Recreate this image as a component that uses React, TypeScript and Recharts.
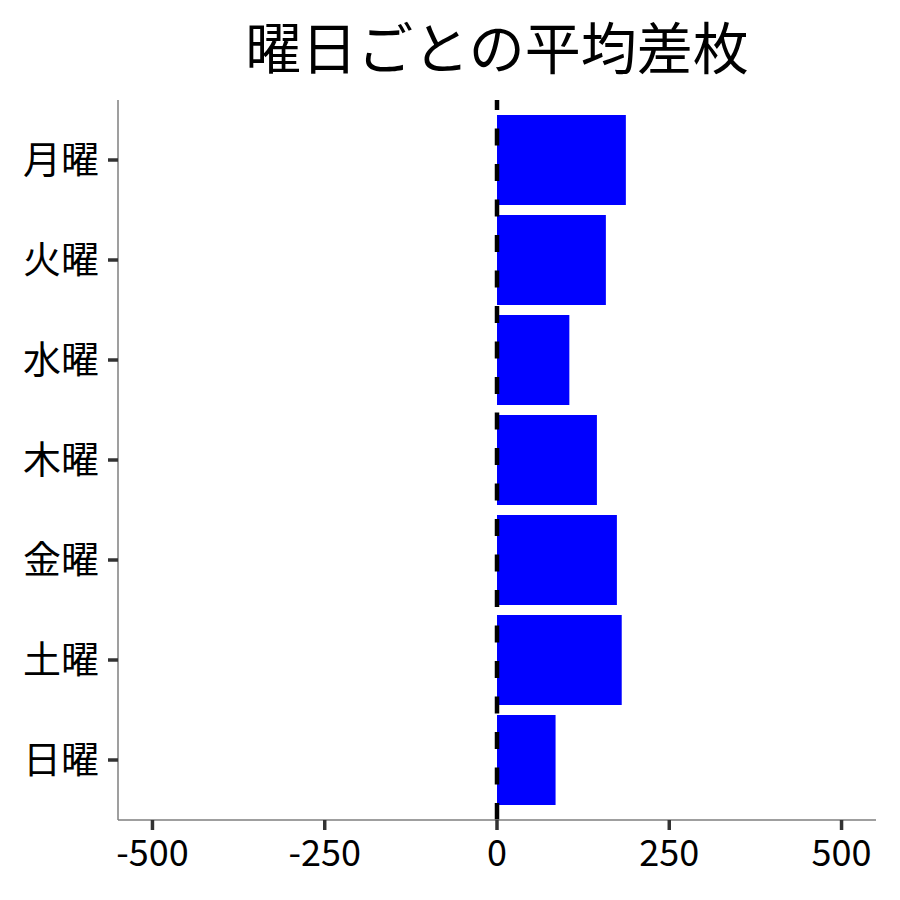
import { BarChart, Bar, XAxis, YAxis, ReferenceLine } from "recharts";

const days = ["月曜", "火曜", "水曜", "木曜", "金曜", "土曜", "日曜"];
const avgDiff = [187, 158, 105, 145, 174, 181, 85];
const xTicks = [-500, -250, 0, 250, 500];

const chartData = days.map((day, i) => ({ day, value: avgDiff[i] }));

const FONT = '"Noto Sans CJK JP", "Noto Sans", sans-serif';

export default function App() {
  return (
    <div
      style={{
        position: "absolute",
        left: 0,
        top: 0,
        width: 900,
        height: 900,
        background: "#fff",
        fontFamily: FONT,
      }}
    >
      <div
        style={{
          position: "absolute",
          left: 118,
          width: 758,
          top: 16,
          height: 58,
          lineHeight: "58px",
          fontSize: 56,
          textAlign: "center",
          color: "#000",
        }}
      >
        曜日ごとの平均差枚
      </div>
      <BarChart
        width={900}
        height={900}
        data={chartData}
        layout="vertical"
        margin={{ top: 100, right: 24, bottom: 20, left: 0 }}
        barCategoryGap="5%"
      >
        <ReferenceLine
          x={0}
          stroke="#000"
          strokeWidth={4.5}
          strokeDasharray="17 18.5"
        />
        <XAxis
          type="number"
          domain={[-550, 550]}
          ticks={xTicks}
          allowDataOverflow
          height={60}
          axisLine={{ stroke: "#7f7f7f", strokeWidth: 1.5 }}
          tickLine={{ stroke: "#333", strokeWidth: 3.5 }}
          tickSize={10}
          tickMargin={10}
          tick={{ fill: "#000", fontSize: 36, fontFamily: FONT }}
        />
        <YAxis
          type="category"
          dataKey="day"
          width={118}
          padding={{ top: 10, bottom: 10 }}
          axisLine={{ stroke: "#7f7f7f", strokeWidth: 1.5 }}
          tickLine={{ stroke: "#333", strokeWidth: 3.5 }}
          tickSize={10}
          tickMargin={9}
          tick={{ fill: "#000", fontSize: 38, fontFamily: FONT }}
        />
        <Bar dataKey="value" fill="#0000ff" isAnimationActive={false} />
      </BarChart>
    </div>
  );
}
